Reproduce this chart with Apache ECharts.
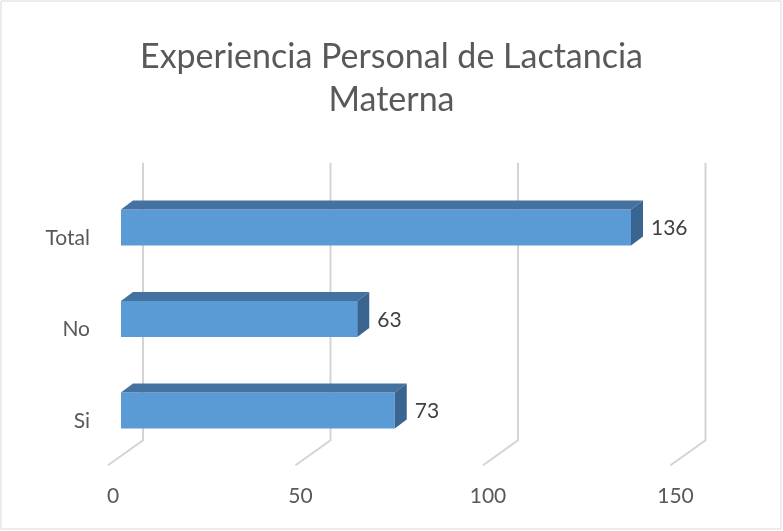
<!DOCTYPE html>
<html>
<head>
<meta charset="utf-8">
<title>Experiencia Personal de Lactancia Materna</title>
<script src="https://cdn.jsdelivr.net/npm/echarts@6/dist/echarts.min.js"></script>
<style>
  html, body { margin: 0; padding: 0; background: #fff; }
  #main { width: 783px; height: 531px; }
</style>
</head>
<body>
<div id="main"></div>
<script type="text/javascript">
    // datos del grafico
    var categorias = ['Si', 'No', 'Total'];
    var valores = [73, 63, 136];
    var ticks = [0, 50, 100, 150];
    var titulo = 'Experiencia Personal de Lactancia\nMaterna';

    var chart = echarts.init(document.getElementById('main'));

    var FONT = 'Lato, "Open Sans", sans-serif';
    var frente = 8;     // desplazamiento cara frontal
    var dx = 12, dy = 9; // profundidad de la barra
    var mitad = 18;

    // barras en 3D: cara frontal, superior y lateral
    function renderBarra(params, api) {
        var v = api.value(0);
        var p0 = api.coord([0, api.value(1)]);
        var p1 = api.coord([v, api.value(1)]);
        var x0 = p0[0] + frente, x1 = p1[0] + frente;
        var yT = p0[1] - mitad, yB = p0[1] + mitad;
        return {
            type: 'group',
            children: [
                { type: 'rect', shape: { x: x0, y: yT, width: x1 - x0, height: yB - yT },
                  style: { fill: '#5b9bd5' } },
                { type: 'polygon', shape: { points: [[x0, yT], [x0 + dx, yT - dy], [x1 + dx, yT - dy], [x1, yT]] },
                  style: { fill: '#4472a0' } },
                { type: 'polygon', shape: { points: [[x1, yT], [x1 + dx, yT - dy], [x1 + dx, yB - dy], [x1, yB]] },
                  style: { fill: '#3a6591' } },
                { type: 'text', x: x1 + 20, y: p0[1] + 1,
                  style: { text: String(v), fill: '#404040', font: '21px ' + FONT, verticalAlign: 'middle', align: 'left' } }
            ]
        };
    }

    // lineas de division en la pared del fondo
    function renderGrid(params, api) {
        var cs = params.coordSys;
        var x = api.coord([api.value(0), 0])[0] + 30;
        var arriba = cs.y - 19;
        var abajo = cs.y + cs.height - 16;
        var estilo = { stroke: '#d4d4d4', lineWidth: 2, fill: null };
        return {
            type: 'group',
            children: [
                { type: 'polyline', shape: { points: [[x, arriba], [x, abajo], [x - 35, abajo + 25]] }, style: estilo }
            ]
        };
    }

    var option = {
        backgroundColor: '#fff',
        animation: false,
        title: {
            text: titulo,
            left: 'center',
            top: 31,
            textStyle: { fontFamily: FONT, fontSize: 34, fontWeight: 'normal', color: '#595959', lineHeight: 43 }
        },
        graphic: [{
            type: 'rect', shape: { x: 1, y: 1, width: 780, height: 528 },
            style: { fill: null, stroke: '#d9d9d9', lineWidth: 1 }, silent: true
        }],
        grid: { left: 113, right: 107.5, top: 181.75, bottom: 74.75 },
        xAxis: {
            type: 'value', min: 0, max: 150, interval: 50,
            axisLine: { show: false }, axisTick: { show: false }, splitLine: { show: false },
            axisLabel: { color: '#595959', fontFamily: FONT, fontSize: 21, margin: 29 }
        },
        yAxis: {
            type: 'category', data: categorias,
            axisLine: { show: false }, axisTick: { show: false }, splitLine: { show: false },
            axisLabel: { color: '#595959', fontFamily: FONT, fontSize: 21, margin: 23, verticalAlign: 'top' }
        },
        series: [
            {
                type: 'custom', name: 'grid', silent: true, z: 1,
                renderItem: renderGrid,
                data: ticks.map(function (t) { return [t, 0]; })
            },
            {
                type: 'custom', name: 'Experiencia', z: 5,
                renderItem: renderBarra,
                encode: { x: 0, y: 1 },
                data: valores.map(function (v, i) { return [v, i]; })
            }
        ]
    };

    chart.setOption(option);
</script>
</body>
</html>
